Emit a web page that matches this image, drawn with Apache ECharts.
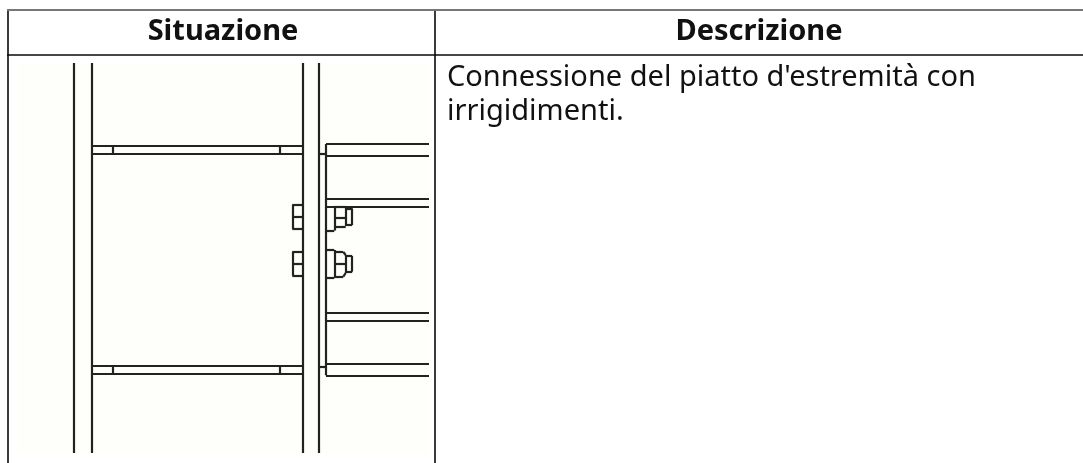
<!DOCTYPE html>
<html><head><meta charset="utf-8">
<style>html,body{margin:0;padding:0;background:#fff}#c{width:1083px;height:463px}</style>
<script src="https://cdn.jsdelivr.net/npm/echarts@6/dist/echarts.min.js"></script>
</head><body><div id="c"></div>
<script>
// Table text
const headers = ['Situazione', 'Descrizione'];
const descriptionLines = ["Connessione del piatto d'estremità con", 'irrigidimenti.'];
// Table rules: [x1, y1, x2, y2] in drawing units
const tableRules = [[7,55,1083,55],[7.5,10,7.5,463],[434.5,10,434.5,463]];
const tableTop = [[7,10,1083,10]];
const sheet = [18, 63, 429, 453];
// Drawing segments
const columns = [[73.7,63,73.7,453],[91.3,63,91.3,453],[302.7,63,302.7,453],[318.3,63,318.3,453]];
const stiffeners = [
  [91.3,146,302.7,146],[91.3,154,302.7,154],[112.7,146,112.7,154],[279.3,146,279.3,154],
  [91.3,365.3,302.7,365.3],[91.3,373.3,302.7,373.3],[112.7,365.3,112.7,373.3],[279.3,365.3,279.3,373.3]
];
const endPlate = [[326,144,326,375.3],[318.3,154,326,154],[318.3,367,326,367]];
const beam = [
  [326,144,429,144],[326,155.7,429,155.7],[326,198.7,429,198.7],[326,206.7,429,206.7],
  [326,312.7,429,312.7],[326,320.3,429,320.3],[326,363.7,429,363.7],[326,375.3,429,375.3]
];
const boltHeads = [
  [292.3,204.7,302.7,204.7],[292.3,229,302.7,229],[292.3,216.7,302.7,216.7],[292.3,204.7,292.3,229],
  [292.3,251.7,302.7,251.7],[292.3,275.7,302.7,275.7],[292.3,263.7,302.7,263.7],[292.3,251.7,292.3,275.7]
];
const nuts = [
  [334.3,207,334.3,230.5],[326,230.5,334.3,230.5],
  [334.3,207,345.7,207],[345.7,207,345.7,226],[334.3,217.3,345.7,217.3],[334.3,227,345.7,227],
  [345.7,208.3,352.2,208.3],[352.2,208.3,352.2,225],[345.7,225,352.2,225],
  [326,250,334.3,250],[334.3,250,334.3,277.5],[326,277.5,334.3,277.5],
  [334.3,252,343.3,252],[343.3,252,345.7,255],[345.7,255,345.7,273],[345.7,273,343.3,276.7],[334.3,276.7,343.3,276.7],
  [334.3,263.7,345.7,263.7],
  [345.7,256,352.2,256],[352.2,256,352.2,271.7],[345.7,271.7,352.2,271.7]
];
const drawing = [].concat(columns, stiffeners, endPlate, beam, boltHeads, nuts);
const toLines = a => a.map(s => ({coords: [[s[0], s[1]], [s[2], s[3]]]}));
const textRows = [
  [223, 31.5, headers[0], 'center', 'bold'],
  [759, 31.5, headers[1], 'center', 'bold'],
  [447, 78, descriptionLines[0], 'left', 'normal'],
  [447, 112, descriptionLines[1], 'left', 'normal']
];

const chart = echarts.init(document.getElementById('c'), null, {renderer: 'canvas'});
chart.setOption({
  animation: false,
  backgroundColor: '#ffffff',
  grid: {left: 0, right: 0, top: 0, bottom: 0},
  xAxis: {type: 'value', min: 0, max: 1083, show: false},
  yAxis: {type: 'value', min: 0, max: 463, inverse: true, show: false},
  series: [
    {
      type: 'custom', coordinateSystem: 'cartesian2d', silent: true, z: 1,
      data: [sheet],
      renderItem: (p, api) => {
        const a = api.coord([api.value(0), api.value(1)]);
        const b = api.coord([api.value(2), api.value(3)]);
        return {type: 'rect', shape: {x: a[0], y: a[1], width: b[0]-a[0], height: b[1]-a[1]},
                style: {fill: '#fefefa'}};
      }
    },
    {type: 'lines', coordinateSystem: 'cartesian2d', silent: true, z: 2, symbol: 'none',
     lineStyle: {color: '#222222', width: 2.2, opacity: 1, curveness: 0}, data: toLines(drawing)},
    {type: 'lines', coordinateSystem: 'cartesian2d', silent: true, z: 3, symbol: 'none',
     lineStyle: {color: '#0a0a0a', width: 1.6, opacity: 1, curveness: 0}, data: toLines(tableRules)},
    {type: 'lines', coordinateSystem: 'cartesian2d', silent: true, z: 3, symbol: 'none',
     lineStyle: {color: '#777777', width: 2, opacity: 1, curveness: 0}, data: toLines(tableTop)},
    {
      type: 'custom', coordinateSystem: 'cartesian2d', silent: true, z: 4,
      data: textRows.map(r => r.slice(0, 2)),
      renderItem: (p, api) => {
        const d = api.coord([api.value(0), api.value(1)]);
        const row = textRows[p.dataIndex];
        return {type: 'text', x: d[0], y: d[1], style: {
          text: row[2], fill: '#111111', align: row[3], verticalAlign: 'middle',
          font: row[4] + ' 29px "Noto Sans"'}};
      }
    }
  ]
});
</script></body></html>
